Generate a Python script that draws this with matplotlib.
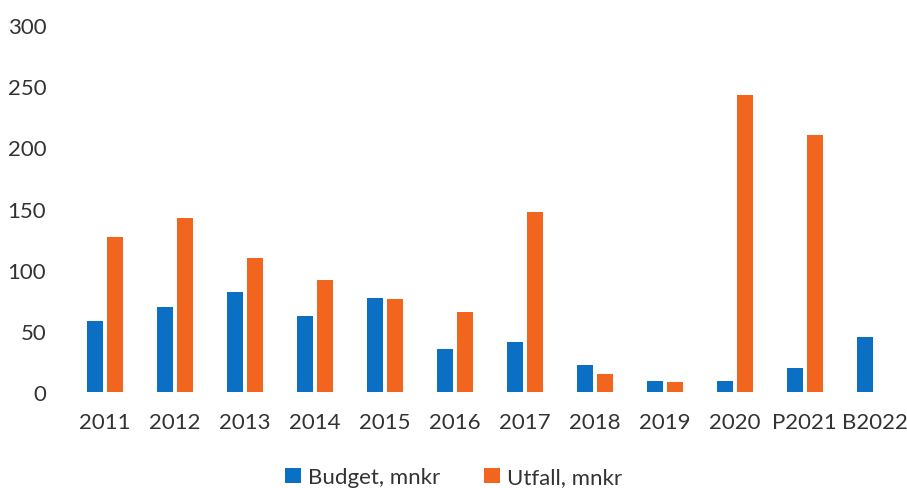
import matplotlib
matplotlib.use("Agg")
import matplotlib.pyplot as plt
import numpy as np

categories = ["2011", "2012", "2013", "2014", "2015", "2016", "2017", "2018", "2019", "2020", "P2021", "B2022"]
budget = [58, 70, 82, 62, 77, 35.5, 41, 22, 9.5, 9.5, 20, 45]
utfall = [127, 142, 110, 92, 76, 66, 147, 15, 8.5, 243, 210, np.nan]
yticks = [0, 50, 100, 150, 200, 250, 300]

plt.rcParams['font.family'] = ['Lato', 'DejaVu Sans']

fig = plt.figure(figsize=(9.07, 4.89), dpi=100)
ax = fig.add_axes([0.077, 0.1957, 0.926, 0.751])

x = np.arange(len(categories))
w = 0.23
off = 0.145
ax.bar(x - off, budget, w, color="#0b6fc4", label="Budget, mnkr")
ax.bar(x + off, utfall, w, color="#f2651f", label="Utfall, mnkr")

ax.set_xlim(-0.5, len(categories) - 0.5)
ax.set_ylim(0, 300)
ax.set_yticks(yticks)
ax.set_xticks(x)
ax.set_xticklabels(categories)
for s in ax.spines.values():
    s.set_visible(False)
ax.tick_params(axis='both', length=0, labelsize=16, colors="#333333")
ax.tick_params(axis='y', pad=17)
ax.tick_params(axis='x', pad=14)

leg = fig.legend(loc="center", bbox_to_anchor=(0.5, 0.022), ncol=2, frameon=False,
                 fontsize=16, handlelength=0.7, handleheight=0.7, handletextpad=0.3,
                 columnspacing=2.0, labelcolor="#333333")

fig.savefig("out.png", dpi=100)
